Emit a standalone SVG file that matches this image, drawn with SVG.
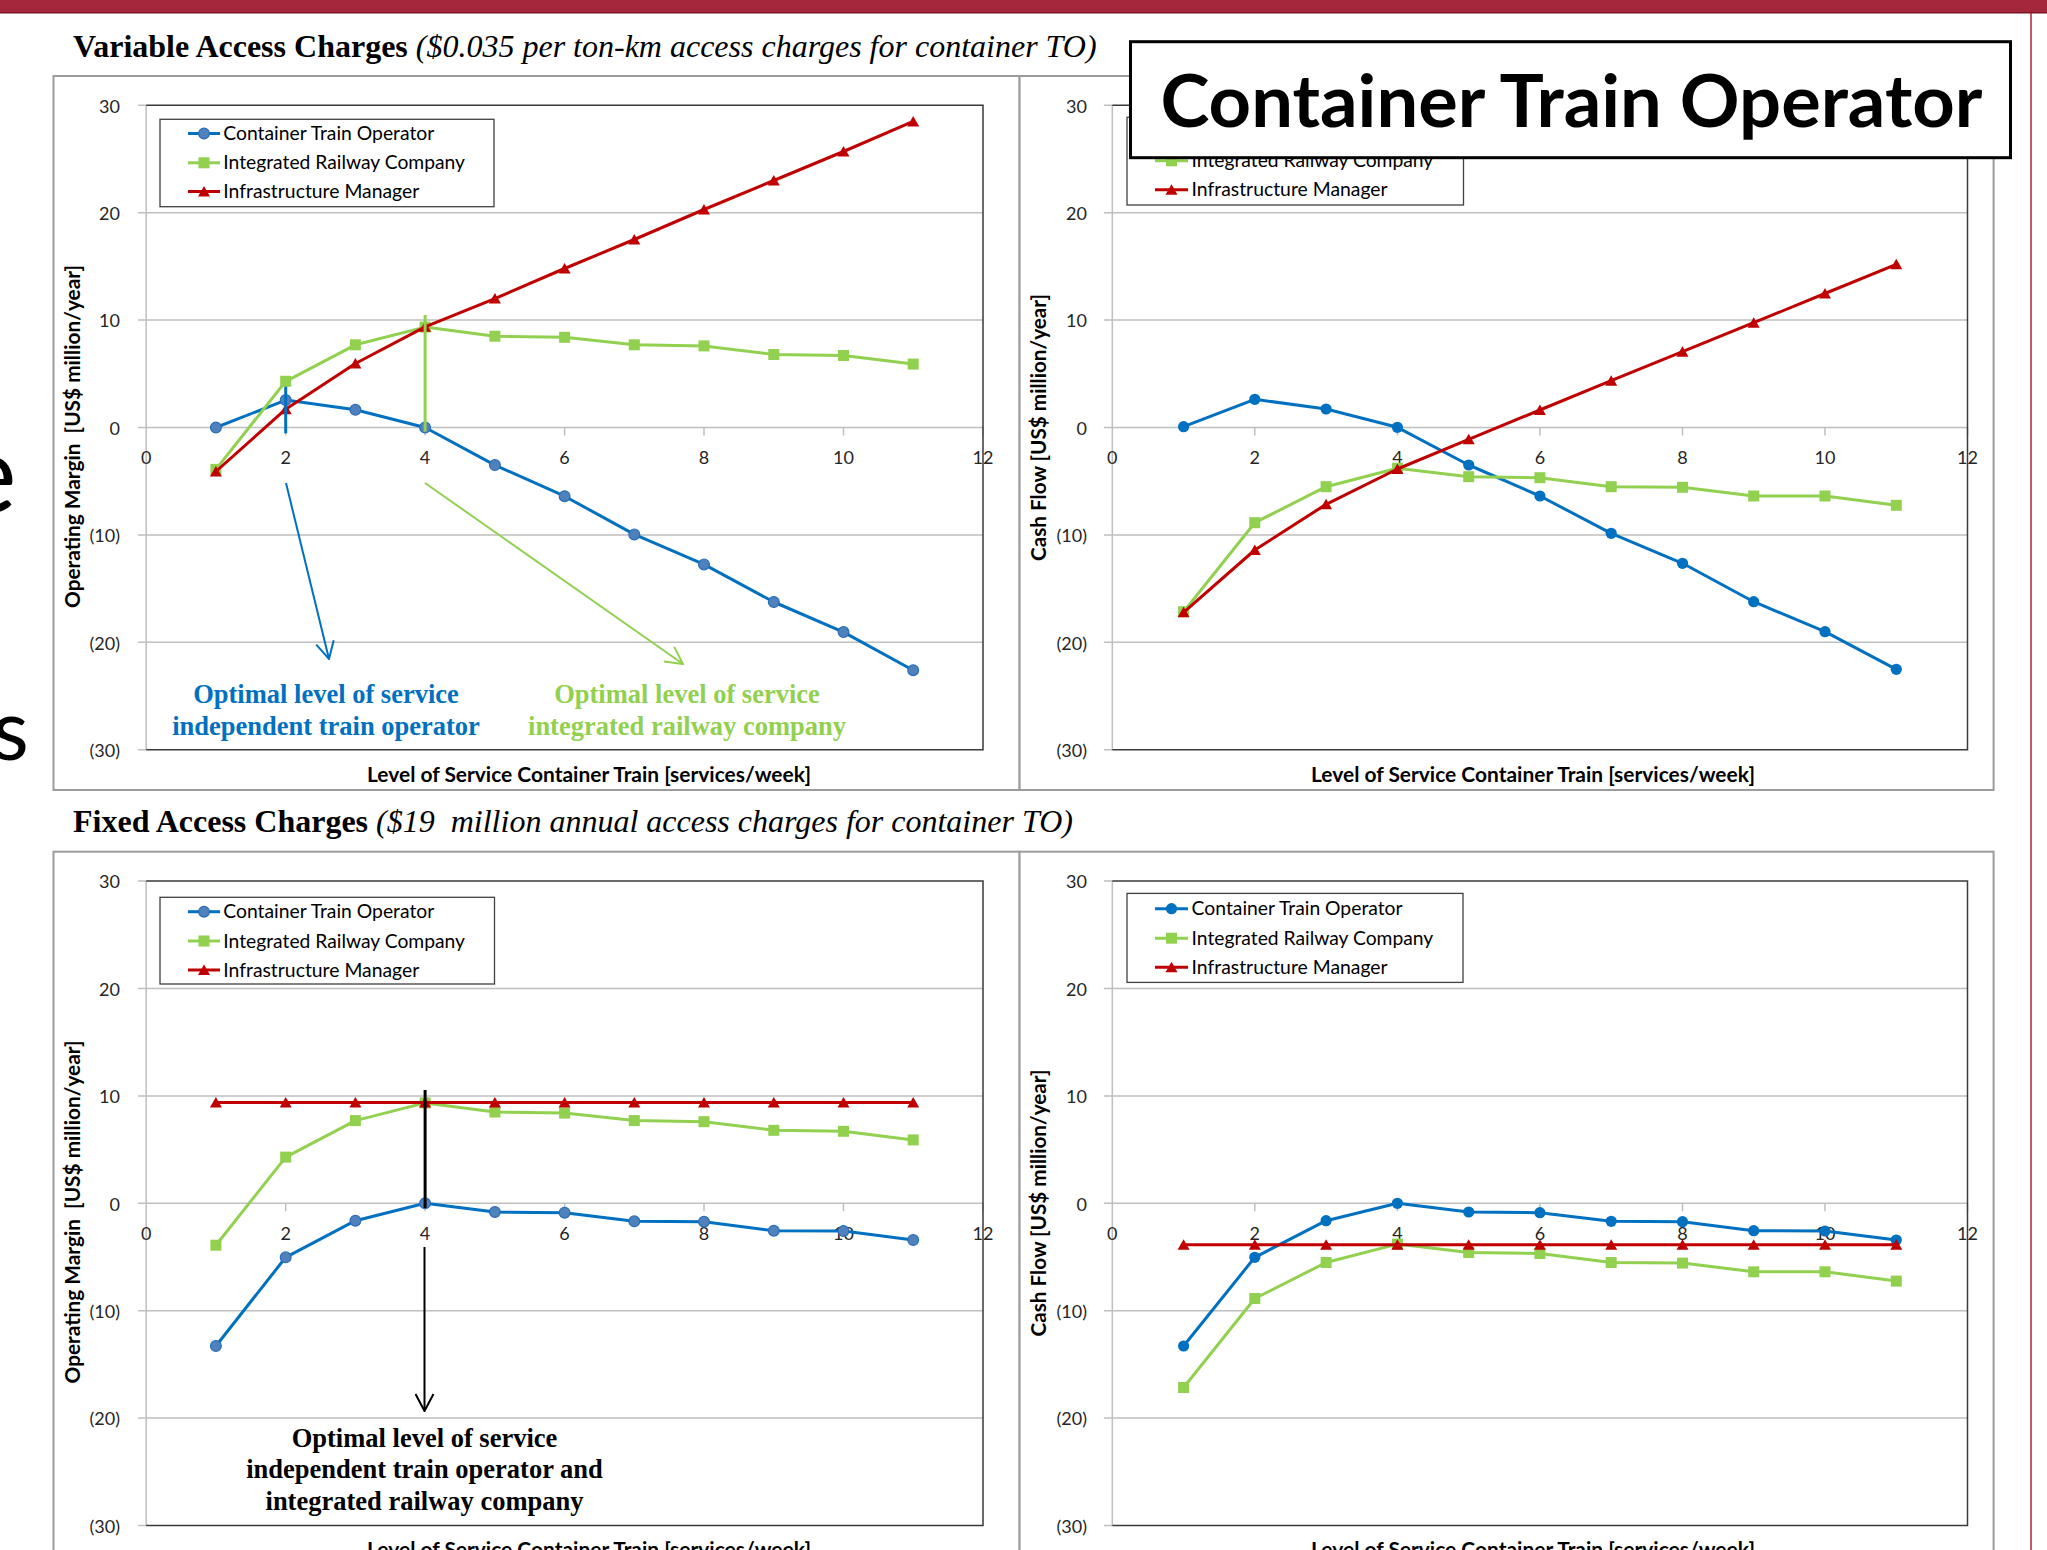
<svg xmlns="http://www.w3.org/2000/svg" width="2047" height="1550" viewBox="0 0 2047 1550">
<style>
  .frame { fill: #fff; stroke: #9C9C9C; stroke-width: 2; }
  .grid { stroke: #BFBFBF; stroke-width: 1.5; fill: none; }
  .border { stroke: #3A3A3A; stroke-width: 1.5; fill: none; }
  .axis { stroke: #BFBFBF; stroke-width: 1.5; fill: none; }
  .tick { font-family: Lato, 'Liberation Sans', sans-serif; font-size: 18px; fill: #262626; }
  .yt { text-anchor: end; }
  .xt { text-anchor: middle; }
  .axt { font-family: Lato, 'Liberation Sans', sans-serif; font-weight: 700; font-size: 20px; fill: #000; text-anchor: middle; white-space: pre; }
  .legbox { fill: #fff; stroke: #404040; stroke-width: 1.3; }
  .leg { font-family: Lato, 'Liberation Sans', sans-serif; font-size: 18.4px; fill: #000; }
  .ttl { font-family: 'Liberation Serif', 'Times New Roman', serif; font-size: 32px; font-weight: 700; fill: #000; white-space: pre; }
  .it { font-style: italic; font-weight: 400; }
  .note { font-family: 'Liberation Serif', 'Times New Roman', serif; font-weight: 700; font-size: 26.5px; text-anchor: middle; }
  .sBlue { fill: none; stroke: #0070C0; stroke-width: 3; stroke-linejoin: round; }
  .sGreen { fill: none; stroke: #92D050; stroke-width: 3; stroke-linejoin: round; }
  .sRed { fill: none; stroke: #C00000; stroke-width: 3; stroke-linejoin: round; }
  .dotL { marker-start: url(#mkDotL); marker-mid: url(#mkDotL); marker-end: url(#mkDotL); }
  .dotR { marker-start: url(#mkDotR); marker-mid: url(#mkDotR); marker-end: url(#mkDotR); }
  .sq { marker-start: url(#mkSq); marker-mid: url(#mkSq); marker-end: url(#mkSq); }
  .tri { marker-start: url(#mkTri); marker-mid: url(#mkTri); marker-end: url(#mkTri); }
  .legMkL { marker-mid: url(#mkDotL); }
  .legMkR { marker-mid: url(#mkDotR); }
  .legSq { marker-mid: url(#mkSq); }
  .legTri { marker-mid: url(#mkTri); }
</style>
<defs>
  <marker id="mkDotL" viewBox="-7 -7 14 14" markerWidth="14" markerHeight="14" refX="0" refY="0" markerUnits="userSpaceOnUse">
    <circle r="5.4" fill="#4F81BD" stroke="#2A6DB8" stroke-width="1.2"/>
  </marker>
  <marker id="mkDotR" viewBox="-7 -7 14 14" markerWidth="14" markerHeight="14" refX="0" refY="0" markerUnits="userSpaceOnUse">
    <circle r="5.6" fill="#0070C0"/>
  </marker>
  <marker id="mkSq" viewBox="-7 -7 14 14" markerWidth="14" markerHeight="14" refX="0" refY="0" markerUnits="userSpaceOnUse">
    <rect x="-5.5" y="-5.5" width="11" height="11" fill="#92D050"/>
  </marker>
  <marker id="mkTri" viewBox="-7 -7 14 14" markerWidth="14" markerHeight="14" refX="0" refY="0" markerUnits="userSpaceOnUse">
    <path d="M0,-5.5 L6,5 L-6,5 Z" fill="#C00000"/>
  </marker>
  <marker id="arBlue" viewBox="0 0 20 20" markerWidth="20" markerHeight="20" refX="19" refY="10" orient="auto" markerUnits="userSpaceOnUse">
    <path d="M2,1 L19,10 L2,19" fill="none" stroke="#0070C0" stroke-width="2"/>
  </marker>
  <marker id="arGreen" viewBox="0 0 20 20" markerWidth="20" markerHeight="20" refX="19" refY="10" orient="auto" markerUnits="userSpaceOnUse">
    <path d="M2,1 L19,10 L2,19" fill="none" stroke="#92D050" stroke-width="2"/>
  </marker>
  <marker id="arBlack" viewBox="0 0 20 20" markerWidth="20" markerHeight="20" refX="19" refY="10" orient="auto" markerUnits="userSpaceOnUse">
    <path d="M2,1 L19,10 L2,19" fill="none" stroke="#000" stroke-width="2"/>
  </marker>
</defs>

<rect x="0" y="0" width="2047" height="1550" fill="#fff"/>

<!-- slide chrome: top band, right rule, clipped heading letters -->
<g id="slide-chrome">
  <rect x="0" y="0" width="2047" height="12" fill="#A5273B"/>
  <line x1="0" y1="12.8" x2="2047" y2="12.8" stroke="#7C1526" stroke-width="1.6"/>
  <line x1="2031" y1="13" x2="2031" y2="1550" stroke="#B2303F" stroke-width="1.6"/>
  <text x="-41" y="512" font-family="Lato, sans-serif" font-size="109" fill="#000">e</text>
  <text x="-8" y="760" font-family="Lato, sans-serif" font-size="85" fill="#000">s</text>
</g>

<!-- section headings -->
<g id="heading-variable">
  <text class="ttl" x="73" y="57">Variable Access Charges<tspan class="it"> ($0.035 per ton-km access charges for container TO)</tspan></text>
</g>
<g id="heading-fixed">
  <text class="ttl" x="73" y="832">Fixed Access Charges<tspan class="it"> ($19  million annual access charges for container TO)</tspan></text>
</g>

<!-- ===== Chart A: variable charges, operating margin ===== -->
<g id="chart-variable-margin">
  <rect class="frame" x="53.5" y="76" width="966" height="714"/>
  <path class="grid" d="M138,212.7H983 M138,320.1H983 M138,427.5H983 M138,534.9H983 M138,642.3H983"/>
  <path class="axis" d="M138,105.3H146.2 M138,749.7H146.2 M146.2,105.3V749.7 M285.7,427.5v8 M425.1,427.5v8 M564.6,427.5v8 M704,427.5v8 M843.5,427.5v8 M983,427.5v8"/>
  <path class="border" d="M146.2,105.3H983V749.7H146.2"/>
  <g class="tick yt">
    <text x="120" y="112.5">30</text><text x="120" y="219.9">20</text><text x="120" y="327.3">10</text>
    <text x="120" y="434.7">0</text><text x="120" y="542.1">(10)</text><text x="120" y="649.5">(20)</text><text x="120" y="756.9">(30)</text>
  </g>
  <g class="tick xt">
    <text x="146.2" y="463.5">0</text><text x="285.7" y="463.5">2</text><text x="425.1" y="463.5">4</text>
    <text x="564.6" y="463.5">6</text><text x="704" y="463.5">8</text><text x="843.5" y="463.5">10</text><text x="983" y="463.5">12</text>
  </g>
  <text class="axt" transform="translate(80,436.5) rotate(-90)" textLength="343" lengthAdjust="spacingAndGlyphs">Operating Margin  [US$ million/year]</text>
  <text class="axt" x="589" y="781.5" textLength="444" lengthAdjust="spacingAndGlyphs">Level of Service Container Train [services/week]</text>
  <g id="legend-a">
    <rect class="legbox" x="160" y="119.3" width="334" height="87.4"/>
    <polyline class="sBlue legMkL" points="188,133.5 204,133.5 220,133.5"/>
    <polyline class="sGreen legSq" points="188,162.8 204,162.8 220,162.8"/>
    <polyline class="sRed legTri" points="188,191.5 204,191.5 220,191.5"/>
    <text class="leg" x="223.3" y="140" textLength="211" lengthAdjust="spacingAndGlyphs">Container Train Operator</text>
    <text class="leg" x="223.3" y="169.3" textLength="241.7" lengthAdjust="spacingAndGlyphs">Integrated Railway Company</text>
    <text class="leg" x="223.3" y="198" textLength="196" lengthAdjust="spacingAndGlyphs">Infrastructure Manager</text>
  </g>
  <polyline class="sBlue dotL" points="215.9,427.5 285.7,400.1 355.4,409.8 425.1,427.5 494.9,465.1 564.6,496.2 634.3,534.4 704,564.4 773.8,602 843.5,632.1 913.2,670.2"/>
  <polyline class="sGreen sq" points="215.9,469.4 285.7,381.3 355.4,344.8 425.1,327.1 494.9,336.2 564.6,337.3 634.3,344.8 704,345.9 773.8,354.5 843.5,355.5 913.2,364.1"/>
  <polyline class="sRed tri" points="215.9,471.5 285.7,409.2 355.4,363.5 425.1,326.8 494.9,298.6 564.6,268.5 634.3,239.5 704,209.5 773.8,180.5 843.5,151.5 913.2,121.4"/>
  <text class="note" fill="#0070C0" x="326" y="703">Optimal level of service</text>
  <text class="note" fill="#0070C0" x="326" y="735">independent train operator</text>
  <text class="note" fill="#92D050" x="687" y="703">Optimal level of service</text>
  <text class="note" fill="#92D050" x="687" y="735">integrated railway company</text>
</g>

<!-- ===== Chart B: variable charges, cash flow ===== -->
<g id="chart-variable-cashflow">
  <rect class="frame" x="1019.6" y="76" width="974" height="714"/>
  <path class="grid" d="M1104,212.7H1967.5 M1104,320.1H1967.5 M1104,427.5H1967.5 M1104,534.9H1967.5 M1104,642.3H1967.5"/>
  <path class="axis" d="M1104,105.3H1112.3 M1104,749.7H1112.3 M1112.3,105.3V749.7 M1254.8,427.5v8 M1397.4,427.5v8 M1539.9,427.5v8 M1682.5,427.5v8 M1825,427.5v8 M1967.5,427.5v8"/>
  <path class="border" d="M1112.3,105.3H1967.5V749.7H1112.3"/>
  <g class="tick yt">
    <text x="1087" y="112.5">30</text><text x="1087" y="219.9">20</text><text x="1087" y="327.3">10</text>
    <text x="1087" y="434.7">0</text><text x="1087" y="542.1">(10)</text><text x="1087" y="649.5">(20)</text><text x="1087" y="756.9">(30)</text>
  </g>
  <g class="tick xt">
    <text x="1112.3" y="463.5">0</text><text x="1254.8" y="463.5">2</text><text x="1397.4" y="463.5">4</text>
    <text x="1539.9" y="463.5">6</text><text x="1682.5" y="463.5">8</text><text x="1825" y="463.5">10</text><text x="1967.5" y="463.5">12</text>
  </g>
  <text class="axt" transform="translate(1045.5,427.5) rotate(-90)" textLength="267" lengthAdjust="spacingAndGlyphs">Cash Flow [US$ million/year]</text>
  <text class="axt" x="1533" y="781.5" textLength="444" lengthAdjust="spacingAndGlyphs">Level of Service Container Train [services/week]</text>
  <g id="legend-b">
    <rect class="legbox" x="1127" y="117.3" width="336.5" height="87.7"/>
    <polyline class="sBlue legMkR" points="1155,131.5 1171.5,131.5 1188,131.5"/>
    <polyline class="sGreen legSq" points="1155,160.8 1171.5,160.8 1188,160.8"/>
    <polyline class="sRed legTri" points="1155,189.8 1171.5,189.8 1188,189.8"/>
    <text class="leg" x="1191.6" y="138" textLength="211" lengthAdjust="spacingAndGlyphs">Container Train Operator</text>
    <text class="leg" x="1191.6" y="167.3" textLength="241.7" lengthAdjust="spacingAndGlyphs">Integrated Railway Company</text>
    <text class="leg" x="1191.6" y="196.3" textLength="196" lengthAdjust="spacingAndGlyphs">Infrastructure Manager</text>
  </g>
  <polyline class="sBlue dotR" points="1183.6,426.7 1254.8,399.3 1326.1,409 1397.4,427.3 1468.7,465 1539.9,496 1611.2,533.3 1682.5,563.3 1753.7,601.7 1825,631.7 1896.3,669.3"/>
  <polyline class="sGreen sq" points="1183.6,611.7 1254.8,522.7 1326.1,486.7 1397.4,468.3 1468.7,476.7 1539.9,477.7 1611.2,486.7 1682.5,487.3 1753.7,496 1825,496 1896.3,505.3"/>
  <polyline class="sRed tri" points="1183.6,612.3 1254.8,550 1326.1,504.3 1397.4,469 1468.7,439.3 1539.9,410 1611.2,380.7 1682.5,351.7 1753.7,322.7 1825,293.5 1896.3,264.3"/>
</g>

<!-- ===== Chart C: fixed charges, operating margin ===== -->
<g id="chart-fixed-margin">
  <rect class="frame" x="53.5" y="851.7" width="966" height="720"/>
  <path class="grid" d="M138,988.5H983 M138,1095.9H983 M138,1203.3H983 M138,1310.7H983 M138,1418.1H983"/>
  <path class="axis" d="M138,881.1H146.2 M138,1525.5H146.2 M146.2,881.1V1525.5 M285.7,1203.3v8 M425.1,1203.3v8 M564.6,1203.3v8 M704,1203.3v8 M843.5,1203.3v8 M983,1203.3v8"/>
  <path class="border" d="M146.2,881.1H983V1525.5H146.2"/>
  <g class="tick yt">
    <text x="120" y="888.3">30</text><text x="120" y="995.7">20</text><text x="120" y="1103.1">10</text>
    <text x="120" y="1210.5">0</text><text x="120" y="1317.9">(10)</text><text x="120" y="1425.3">(20)</text><text x="120" y="1532.7">(30)</text>
  </g>
  <g class="tick xt">
    <text x="146.2" y="1240">0</text><text x="285.7" y="1240">2</text><text x="425.1" y="1240">4</text>
    <text x="564.6" y="1240">6</text><text x="704" y="1240">8</text><text x="843.5" y="1240">10</text><text x="983" y="1240">12</text>
  </g>
  <text class="axt" transform="translate(80,1212) rotate(-90)" textLength="343" lengthAdjust="spacingAndGlyphs">Operating Margin  [US$ million/year]</text>
  <text class="axt" x="589" y="1557" textLength="444" lengthAdjust="spacingAndGlyphs">Level of Service Container Train [services/week]</text>
  <g id="legend-c">
    <rect class="legbox" x="160" y="897.3" width="334.5" height="86.7"/>
    <polyline class="sBlue legMkL" points="188,911.7 204,911.7 220,911.7"/>
    <polyline class="sGreen legSq" points="188,941 204,941 220,941"/>
    <polyline class="sRed legTri" points="188,970 204,970 220,970"/>
    <text class="leg" x="223.3" y="918.2" textLength="211" lengthAdjust="spacingAndGlyphs">Container Train Operator</text>
    <text class="leg" x="223.3" y="947.5" textLength="241.7" lengthAdjust="spacingAndGlyphs">Integrated Railway Company</text>
    <text class="leg" x="223.3" y="976.5" textLength="196" lengthAdjust="spacingAndGlyphs">Infrastructure Manager</text>
  </g>
  <polyline class="sBlue dotL" points="215.9,1346 285.7,1257.3 355.4,1220.7 425.1,1203.3 494.9,1212 564.6,1212.7 634.3,1221.3 704,1221.7 773.8,1230.7 843.5,1231 913.2,1240"/>
  <polyline class="sGreen sq" points="215.9,1245.2 285.7,1157.1 355.4,1120.6 425.1,1102.9 494.9,1112 564.6,1113.1 634.3,1120.6 704,1121.7 773.8,1130.3 843.5,1131.3 913.2,1139.9"/>
  <polyline class="sRed tri" points="215.9,1102.5 285.7,1102.5 355.4,1102.5 425.1,1102.5 494.9,1102.5 564.6,1102.5 634.3,1102.5 704,1102.5 773.8,1102.5 843.5,1102.5 913.2,1102.5"/>
  <text class="note" fill="#000" x="424.5" y="1446.7">Optimal level of service</text>
  <text class="note" fill="#000" x="424.5" y="1478.3">independent train operator and</text>
  <text class="note" fill="#000" x="424.5" y="1510">integrated railway company</text>
</g>

<!-- ===== Chart D: fixed charges, cash flow ===== -->
<g id="chart-fixed-cashflow">
  <rect class="frame" x="1019.6" y="851.7" width="974" height="720"/>
  <path class="grid" d="M1104,988.5H1967.5 M1104,1095.9H1967.5 M1104,1203.3H1967.5 M1104,1310.7H1967.5 M1104,1418.1H1967.5"/>
  <path class="axis" d="M1104,881.1H1112.3 M1104,1525.5H1112.3 M1112.3,881.1V1525.5 M1254.8,1203.3v8 M1397.4,1203.3v8 M1539.9,1203.3v8 M1682.5,1203.3v8 M1825,1203.3v8 M1967.5,1203.3v8"/>
  <path class="border" d="M1112.3,881.1H1967.5V1525.5H1112.3"/>
  <g class="tick yt">
    <text x="1087" y="888.3">30</text><text x="1087" y="995.7">20</text><text x="1087" y="1103.1">10</text>
    <text x="1087" y="1210.5">0</text><text x="1087" y="1317.9">(10)</text><text x="1087" y="1425.3">(20)</text><text x="1087" y="1532.7">(30)</text>
  </g>
  <g class="tick xt">
    <text x="1112.3" y="1240">0</text><text x="1254.8" y="1240">2</text><text x="1397.4" y="1240">4</text>
    <text x="1539.9" y="1240">6</text><text x="1682.5" y="1240">8</text><text x="1825" y="1240">10</text><text x="1967.5" y="1240">12</text>
  </g>
  <text class="axt" transform="translate(1045.5,1203) rotate(-90)" textLength="267" lengthAdjust="spacingAndGlyphs">Cash Flow [US$ million/year]</text>
  <text class="axt" x="1533" y="1557" textLength="444" lengthAdjust="spacingAndGlyphs">Level of Service Container Train [services/week]</text>
  <g id="legend-d">
    <rect class="legbox" x="1127" y="893.4" width="336" height="89"/>
    <polyline class="sBlue legMkR" points="1155,908.7 1171.5,908.7 1188,908.7"/>
    <polyline class="sGreen legSq" points="1155,938.2 1171.5,938.2 1188,938.2"/>
    <polyline class="sRed legTri" points="1155,967.3 1171.5,967.3 1188,967.3"/>
    <text class="leg" x="1191.6" y="915.2" textLength="211" lengthAdjust="spacingAndGlyphs">Container Train Operator</text>
    <text class="leg" x="1191.6" y="944.7" textLength="241.7" lengthAdjust="spacingAndGlyphs">Integrated Railway Company</text>
    <text class="leg" x="1191.6" y="973.8" textLength="196" lengthAdjust="spacingAndGlyphs">Infrastructure Manager</text>
  </g>
  <polyline class="sBlue dotR" points="1183.6,1346 1254.8,1257.3 1326.1,1220.7 1397.4,1203.3 1468.7,1212 1539.9,1212.7 1611.2,1221.3 1682.5,1221.7 1753.7,1230.7 1825,1231 1896.3,1240"/>
  <polyline class="sGreen sq" points="1183.6,1387.5 1254.8,1298.5 1326.1,1262.5 1397.4,1244.1 1468.7,1252.5 1539.9,1253.5 1611.2,1262.5 1682.5,1263.1 1753.7,1271.8 1825,1271.8 1896.3,1281.1"/>
  <polyline class="sRed tri" points="1183.6,1244.8 1254.8,1244.8 1326.1,1244.8 1397.4,1244.8 1468.7,1244.8 1539.9,1244.8 1611.2,1244.8 1682.5,1244.8 1753.7,1244.8 1825,1244.8 1896.3,1244.8"/>
</g>

<!-- callout label over the top-right chart -->
<g id="label-container-train-operator">
  <rect x="1130.5" y="41.7" width="880" height="116" fill="#fff" stroke="#000" stroke-width="3"/>
  <text x="1160.4" y="126.7" font-family="Lato, 'Liberation Sans', sans-serif" font-weight="700" font-size="73" fill="#000" textLength="822" lengthAdjust="spacingAndGlyphs">Container Train Operator</text>
</g>

<!-- optimum markers and pointer arrows -->
<g id="annotation-connectors" fill="none">
  <line x1="285.7" y1="386.7" x2="285.7" y2="433.3" stroke="#0070C0" stroke-width="3"/>
  <line x1="425.1" y1="315" x2="425.1" y2="431.7" stroke="#92D050" stroke-width="3"/>
  <line x1="286" y1="483" x2="329" y2="659" stroke="#0070C0" stroke-width="2" marker-end="url(#arBlue)"/>
  <line x1="425" y1="483" x2="683" y2="664" stroke="#92D050" stroke-width="2" marker-end="url(#arGreen)"/>
  <line x1="425.1" y1="1090" x2="425.1" y2="1208" stroke="#000" stroke-width="3"/>
  <line x1="424.5" y1="1247" x2="424.5" y2="1411" stroke="#000" stroke-width="2" marker-end="url(#arBlack)"/>
</g>
</svg>
